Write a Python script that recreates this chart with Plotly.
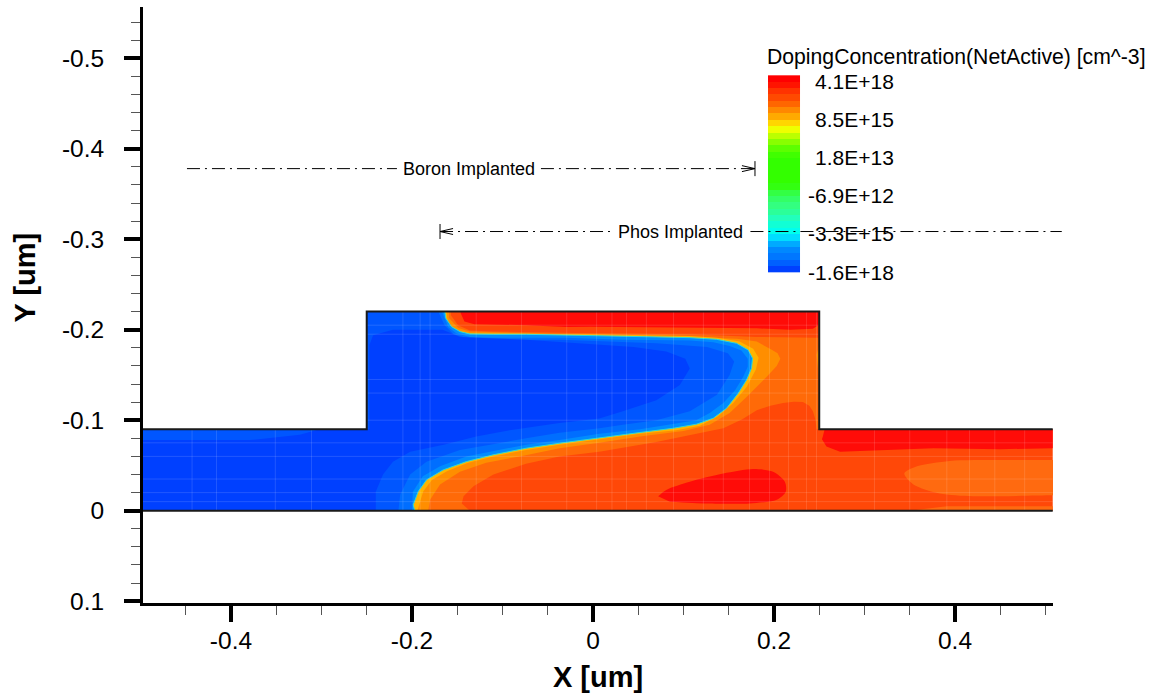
import plotly.graph_objects as go

# ---------- axis labels ----------
x_tick_vals = [-0.4, -0.2, 0, 0.2, 0.4]
x_tick_text = ["-0.4", "-0.2", "0", "0.2", "0.4"]
y_tick_vals = [-0.5, -0.4, -0.3, -0.2, -0.1, 0, 0.1]
y_tick_text = ["-0.5", "-0.4", "-0.3", "-0.2", "-0.1", "0", "0.1"]

# ---------- device outline ----------
outline_x = [0.508, 0.25, 0.25, -0.25, -0.25, -0.5, None, -0.5, 0.508]
outline_y = [-0.09, -0.09, -0.22, -0.22, -0.09, -0.09, None, 0, 0]
device_x = [-0.5, -0.5, -0.25, -0.25, 0.25, 0.25, 0.508, 0.508]
device_y = [0, -0.09, -0.09, -0.22, -0.22, -0.09, -0.09, 0]

# ---------- contour band boundaries ----------
o1_x = [-0.21, -0.136, -0.145, -0.143, -0.132, -0.110, -0.074, -0.037, 0.007, 0.070, 0.144, 0.165, 0.181, 0.196, 0.210, 0.222, 0.232, 0.239, 0.243, 0.246, 0.247, 0.250, 0.250, 0.181, 0.107, -0.003, -0.110, -0.136, -0.149, -0.157, -0.157, -0.2, -0.2]
o1_y = [0, 0, -0.008, -0.016, -0.027, -0.040, -0.052, -0.060, -0.065, -0.076, -0.091, -0.101, -0.111, -0.116, -0.119, -0.1205, -0.120, -0.116, -0.110, -0.100, -0.090, -0.090, -0.191, -0.192, -0.195, -0.196, -0.198, -0.199, -0.205, -0.216, -0.22, -0.22, -0.1]

wall_x = [0.250, 0.247, 0.249, 0.250]
wall_y = [-0.183, -0.172, -0.154, -0.146]

o2_x = [-0.21, -0.182, -0.180, -0.169, -0.147, -0.118, -0.081, -0.037, 0.007, 0.052, 0.100, 0.129, 0.151, 0.170, 0.192, 0.203, 0.207, 0.204, 0.197, 0.181, 0.159, 0.107, -0.003, -0.110, -0.136, -0.149, -0.159, -0.159, -0.2, -0.2]
o2_y = [0, 0, -0.012, -0.029, -0.043, -0.053, -0.060, -0.069, -0.075, -0.082, -0.088, -0.095, -0.108, -0.126, -0.148, -0.160, -0.168, -0.174, -0.178, -0.187, -0.190, -0.192, -0.194, -0.197, -0.198, -0.202, -0.213, -0.22, -0.22, -0.1]

o3_x = [-0.21, -0.194, -0.1876, -0.178, -0.161, -0.138, -0.110, -0.074, -0.037, 0.007, 0.052, 0.092, 0.118, 0.138, 0.155, 0.170, 0.180, 0.183, 0.177, 0.162, 0.137, 0.107, -0.003, -0.110, -0.136, -0.148, -0.158, -0.1611, -0.1618, -0.2, -0.2]
o3_y = [0, 0, -0.0212, -0.034, -0.044, -0.053, -0.060, -0.067, -0.073, -0.079, -0.085, -0.089, -0.094, -0.104, -0.119, -0.137, -0.156, -0.169, -0.179, -0.187, -0.191, -0.193, -0.195, -0.196, -0.1964, -0.199, -0.205, -0.213, -0.22, -0.22, -0.1]

junction_x = [-0.197, -0.1986, -0.1931, -0.1839, -0.1655, -0.1397, -0.1103, -0.0735, -0.0367, 0.0075, 0.0519, 0.0887, 0.1145, 0.1329, 0.1476, 0.1605, 0.1697, 0.1752, 0.1763, 0.1715, 0.1586, 0.1365, 0.1071, 0.0703, 0.0335, -0.0033, -0.0293, -0.0735, -0.1103, -0.1361, -0.1471, -0.1563, -0.1626, -0.1637]
junction_y = [0, -0.0065, -0.0212, -0.0341, -0.0451, -0.0543, -0.0617, -0.0691, -0.0746, -0.0808, -0.0864, -0.0911, -0.0956, -0.1022, -0.1132, -0.1298, -0.1445, -0.1574, -0.1684, -0.1776, -0.1850, -0.1894, -0.1912, -0.1920, -0.1927, -0.1934, -0.1942, -0.1949, -0.1949, -0.1953, -0.1979, -0.2034, -0.2126, -0.22]

left_close_x = [-0.25, -0.25, -0.5, -0.5]
left_close_y = [-0.22, -0.09, -0.09, 0]

b2_x = [-0.200, -0.199, -0.188, -0.169, -0.140, -0.110, -0.074, -0.037, 0.007, 0.052, 0.089, 0.114, 0.129, 0.144, 0.157, 0.166, 0.171, 0.171, 0.164, 0.151, 0.133, 0.107, 0.034, -0.003, -0.029, -0.110, -0.136, -0.151, -0.160, -0.167]
b2_y = [0, -0.021, -0.038, -0.049, -0.060, -0.066, -0.073, -0.078, -0.085, -0.090, -0.096, -0.100, -0.108, -0.119, -0.133, -0.148, -0.159, -0.168, -0.177, -0.182, -0.186, -0.188, -0.189, -0.190, -0.191, -0.191, -0.192, -0.196, -0.203, -0.22]

b3_x = [-0.215, -0.213, -0.202, -0.184, -0.147, -0.110, -0.074, -0.037, 0.007, 0.033, 0.070, 0.107, 0.137, 0.151, 0.156, 0.149, 0.126, 0.070, -0.003, -0.037, -0.110, -0.140, -0.154, -0.164, -0.171]
b3_y = [0, -0.018, -0.040, -0.054, -0.067, -0.074, -0.080, -0.086, -0.091, -0.095, -0.100, -0.110, -0.128, -0.150, -0.165, -0.174, -0.181, -0.185, -0.188, -0.189, -0.189, -0.191, -0.195, -0.205, -0.22]

deep_x = [-0.240, -0.240, -0.232, -0.221, -0.202, -0.165, -0.129, -0.092, -0.037, 0.007, 0.033, 0.070, 0.096, 0.107, 0.102, 0.081, 0.045, -0.003, -0.022, -0.074, -0.129, -0.147, -0.166, -0.221, -0.243, -0.247, -0.247, -0.302, -0.324, -0.379, -0.5, -0.5]
deep_y = [0, -0.021, -0.040, -0.054, -0.065, -0.073, -0.082, -0.089, -0.097, -0.102, -0.110, -0.122, -0.139, -0.157, -0.168, -0.176, -0.181, -0.184, -0.186, -0.189, -0.191, -0.192, -0.200, -0.200, -0.194, -0.183, -0.090, -0.090, -0.084, -0.078, -0.078, 0]

red_top_x = [-0.146, -0.146, -0.142, -0.131, -0.074, -0.029, -0.003, 0.107, 0.181, 0.218, 0.243, 0.249, 0.25, 0.25]
red_top_y = [-0.22, -0.218, -0.209, -0.206, -0.205, -0.203, -0.2034, -0.202, -0.2015, -0.200, -0.201, -0.205, -0.218, -0.22]

red_blob_x = [0.072, 0.081, 0.107, 0.144, 0.177, 0.199, 0.212, 0.213, 0.203, 0.173, 0.126, 0.085]
red_blob_y = [-0.016, -0.023, -0.032, -0.041, -0.046, -0.043, -0.032, -0.021, -0.012, -0.008, -0.008, -0.010]

red_right_x = [0.253, 0.258, 0.273, 0.321, 0.376, 0.450, 0.508, 0.508, 0.256, 0.254]
red_right_y = [-0.079, -0.071, -0.065, -0.067, -0.069, -0.068, -0.069, -0.09, -0.09, -0.082]

arm_x = [0.530, 0.508, 0.450, 0.394, 0.358, 0.344, 0.354, 0.383, 0.420, 0.508, 0.530]
arm_y = [-0.056, -0.056, -0.056, -0.055, -0.049, -0.041, -0.029, -0.019, -0.016, -0.017, -0.017]

arm_low_x = [0.350, 0.391, 0.450, 0.508, 0.508]
arm_low_y = [0, -0.005, -0.005, -0.005, 0]

# ---------- faint mesh lines ----------
mesh_x = [-0.443, -0.416, -0.351, -0.311, -0.210, -0.191, -0.180, -0.129, -0.079, -0.029, 0.004, 0.021, 0.037, 0.059, 0.089, 0.122, 0.144, 0.173, 0.195, 0.216, 0.236, 0.247, 0.311, 0.350, 0.391, 0.416, 0.444, 0.477]
mesh_y = [-0.205, -0.195, -0.145, -0.130, -0.100, -0.075, -0.060, -0.035, -0.020, -0.010]

# ---------- colour legend ----------
level_colors = ["#ff0000", "#ff1400", "#ff3300", "#ff4a00", "#ff6600", "#ff8800", "#ffaa00", "#ffd500",
                "#eeff00", "#bbff00", "#88ff00", "#5cff00", "#40ff00", "#33ff00", "#33ff00", "#33ff00",
                "#33ff00", "#33ff11", "#33ff44", "#33ff66", "#33ff80", "#2bff99", "#22ffbb", "#11ffd5",
                "#00ffee", "#00ddff", "#00aaff", "#0088ff", "#0077ff", "#0060ff", "#0040ff"]
legend_labels = ["4.1E+18", "8.5E+15", "1.8E+13", "-6.9E+12", "-3.3E+15", "-1.6E+18"]
legend_label_y = [-0.474, -0.432, -0.390, -0.348, -0.306, -0.263]
legend_title = "DopingConcentration(NetActive) [cm^-3]"

# ---------- implant annotations ----------
boron_x = [-0.4486, -0.2166, None, -0.0575, 0.179]
boron_y = [-0.378, -0.378, None, -0.378, -0.378]
boron_head_x = [0.1646, 0.179, 0.1646]
boron_head_y = [-0.3813, -0.378, -0.3747]
boron_bar_x = [0.179, 0.179]
boron_bar_y = [-0.3863, -0.3697]
phos_x = [-0.169, 0.0188]
phos_y = [-0.3085, -0.3085]
phos_right_x = [0.1740, 0.518]
phos_head_x = [-0.1546, -0.169, -0.1546]
phos_head_y = [-0.3118, -0.3085, -0.3052]
phos_bar_x = [-0.169, -0.169]
phos_bar_y = [-0.3168, -0.3002]

FONT = "Liberation Sans"
X_RANGE = [-0.4972, 0.5083]
Y_RANGE = [0.102, -0.5566]
BAR_X = [0.1934, 0.2287]
BAR_Y = [-0.4811, -0.2638]

fig = go.Figure()

# colour legend swatches
n = len(level_colors)
scale = []
for i, c in enumerate(level_colors):
    scale += [[i / n, c], [(i + 1) / n, c]]
edges = [BAR_Y[0] + (BAR_Y[1] - BAR_Y[0]) * i / n for i in range(n + 1)]
fig.add_trace(go.Heatmap(x=BAR_X, y=edges, z=[[i] for i in range(n)], zmin=-0.5, zmax=n - 0.5,
                         colorscale=scale, showscale=False, hoverinfo="skip"))


def band(x, y, color, shape="linear"):
    fig.add_trace(go.Scatter(x=x, y=y, mode="lines", fill="toself", fillcolor=color,
                             line=dict(width=0, color=color, shape=shape, smoothing=0.8),
                             hoverinfo="skip", showlegend=False))


band(device_x, device_y, "#ff4808")
band(o1_x, o1_y, "#ff6a08")
band(wall_x, wall_y, "#ff8c00")
band(o2_x, o2_y, "#ff8e00")
band(o3_x, o3_y, "#ffb400")
band(junction_x + left_close_x, junction_y + left_close_y, "#008cff")
band(b2_x + left_close_x, b2_y + left_close_y, "#006eff")
band(b3_x + left_close_x, b3_y + left_close_y, "#0056ff")
band(deep_x, deep_y, "#0040ff")
band(red_top_x, red_top_y, "#ff0c08")
band(red_blob_x, red_blob_y, "#ff0c08", shape="spline")
band(red_right_x, red_right_y, "#ff0c08")
band(arm_x, arm_y, "#ff6a10", shape="spline")
band(arm_low_x, arm_low_y, "#ff6a10")

# thin transition along the junction
fig.add_trace(go.Scatter(x=junction_x, y=junction_y, mode="lines", line=dict(width=1, color="#30d8d0"),
                         hoverinfo="skip", showlegend=False))

# mesh
mx, my = [], []
for v in mesh_x:
    top = -0.22 if abs(v) < 0.25 else -0.09
    mx += [v, v, None]
    my += [0, top, None]
for v in mesh_y:
    if v < -0.09:
        mx += [-0.25, 0.25, None]
    else:
        mx += [-0.5, 0.508, None]
    my += [v, v, None]
fig.add_trace(go.Scatter(x=mx, y=my, mode="lines", line=dict(width=1, color="rgba(255,255,255,0.13)"),
                         hoverinfo="skip", showlegend=False))

# outline
fig.add_trace(go.Scatter(x=outline_x, y=outline_y, mode="lines", line=dict(width=2, color="#1a1a1a"),
                         hoverinfo="skip", showlegend=False))

# implant lines
DASH = "13px,5px,2px,5px"
for xs, ys in ((boron_x, boron_y), (phos_x, phos_y)):
    fig.add_trace(go.Scatter(x=xs, y=ys, mode="lines", line=dict(width=1, color="black", dash=DASH),
                             hoverinfo="skip", showlegend=False))
for xs, ys in ((boron_head_x, boron_head_y), (boron_bar_x, boron_bar_y),
               (phos_head_x, phos_head_y), (phos_bar_x, phos_bar_y)):
    fig.add_trace(go.Scatter(x=xs, y=ys, mode="lines", line=dict(width=1, color="black"),
                             hoverinfo="skip", showlegend=False))

span = X_RANGE[1] - X_RANGE[0]
shapes = [dict(type="line", xref="paper", yref="y",
               x0=(phos_right_x[0] - X_RANGE[0]) / span, x1=(phos_right_x[1] - X_RANGE[0]) / span,
               y0=phos_y[0], y1=phos_y[0], line=dict(width=1, color="black", dash=DASH))]

annotations = [
    dict(x=(boron_x[1] + boron_x[3]) / 2, y=boron_y[0], xref="x", yref="y", text="Boron Implanted",
         showarrow=False, font=dict(family=FONT, size=18, color="black")),
    dict(x=(phos_x[1] + phos_right_x[0]) / 2, y=phos_y[0], xref="x", yref="y", text="Phos Implanted",
         showarrow=False, font=dict(family=FONT, size=18, color="black")),
    dict(x=BAR_X[0], y=-0.501, xref="x", yref="y", xanchor="left", xshift=-3, text=legend_title,
         showarrow=False, font=dict(family=FONT, size=21.2, color="black")),
    dict(x=0, y=-0.2577, xref="paper", yref="y", xanchor="center", xshift=-118, text="<b>Y [um]</b>", textangle=-90,
         showarrow=False, font=dict(family=FONT, size=29, color="black")),
]
for t, v in zip(legend_labels, legend_label_y):
    annotations.append(dict(x=0.3348, y=v, xref="x", yref="y", xanchor="right", text=t, showarrow=False,
                            font=dict(family=FONT, size=21, color="black")))

axis_common = dict(showgrid=False, zeroline=False, showline=True, linewidth=3, linecolor="black",
                   ticks="outside", ticklen=16, tickwidth=3.5, tickcolor="black", automargin=False,
                   tickfont=dict(family=FONT, size=24.5, color="black"), tickmode="array")

fig.update_layout(
    width=1152, height=693, autosize=False, showlegend=False,
    paper_bgcolor="white", plot_bgcolor="white",
    margin=dict(l=143, r=99, t=7, b=90, pad=0),
    xaxis=dict(range=X_RANGE, tickvals=x_tick_vals, ticktext=x_tick_text, ticklabelstandoff=-2,
               minor=dict(ticks="outside", dtick=0.05, tick0=0, ticklen=9, tickwidth=1, tickcolor="#555555", showgrid=False),
               title=dict(text="<b>X [um]</b>", font=dict(family=FONT, size=29, color="black"), standoff=14),
               **axis_common),
    yaxis=dict(range=Y_RANGE, tickvals=y_tick_vals, ticktext=y_tick_text, ticklabelstandoff=15,
               minor=dict(ticks="outside", dtick=0.02, tick0=0, ticklen=9, tickwidth=1, tickcolor="#555555", showgrid=False),
               **axis_common),
    annotations=annotations,
    shapes=shapes,
)

fig.write_html("out.html", config=dict(displayModeBar=False),
               post_script="document.body.style.margin='0';document.body.style.overflow='hidden';")
